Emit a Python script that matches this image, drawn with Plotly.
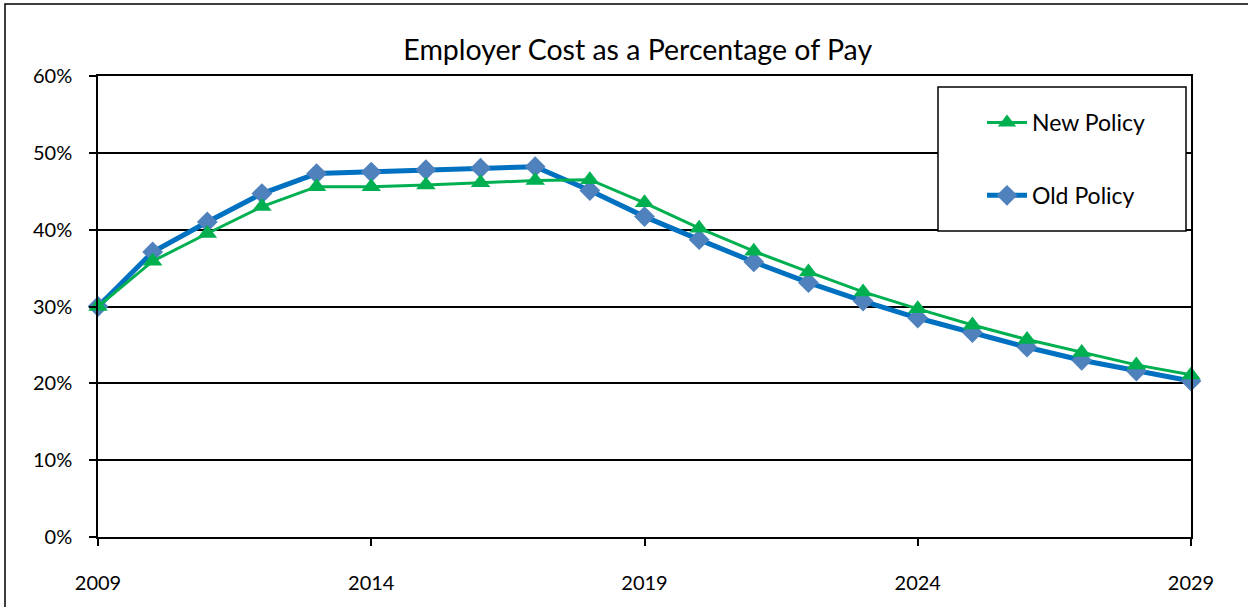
import plotly.graph_objects as go

years = list(range(2009, 2030))
new_policy = [30.0, 35.9, 39.5, 43.0, 45.6, 45.6, 45.8, 46.1, 46.4, 46.5, 43.5,
              40.2, 37.2, 34.5, 31.9, 29.7, 27.6, 25.7, 24.0, 22.4, 21.1]
old_policy = [30.0, 37.1, 41.0, 44.7, 47.3, 47.5, 47.8, 48.0, 48.2, 45.1, 41.7,
              38.7, 35.8, 33.1, 30.7, 28.5, 26.6, 24.7, 23.0, 21.6, 20.3]
y_ticks = [0, 10, 20, 30, 40, 50, 60]
y_tick_labels = ["0%", "10%", "20%", "30%", "40%", "50%", "60%"]
x_ticks = [2009, 2014, 2019, 2024, 2029]

FONT = "Lato"
W, H = 1248, 607
ML, MR, MT, MB = 98, 57, 76, 70
PW, PH = W - ML - MR, H - MT - MB

def px_x(x):
    return (x - ML) / PW

def px_y(y):
    return (H - MB - y) / PH

fig = go.Figure()
fig.add_trace(go.Scatter(
    x=years, y=old_policy, name="Old Policy", mode="lines+markers",
    line=dict(color="#0070C0", width=5),
    marker=dict(symbol="diamond", size=16, color="#4F81BD"),
    cliponaxis=False, legendgroup="b", legendrank=2,
))
fig.add_trace(go.Scatter(
    x=years, y=new_policy, name="New Policy", mode="lines+markers",
    line=dict(color="#00B050", width=3),
    marker=dict(symbol="triangle-up", size=17, color="#00B050"),
    cliponaxis=False, legendgroup="a", legendrank=1,
))

fig.update_layout(
    width=W, height=H,
    margin=dict(l=ML, r=MR, t=MT, b=MB),
    paper_bgcolor="white", plot_bgcolor="white",
    font=dict(family=FONT, size=20, color="black"),
    title=dict(text="Employer Cost as a Percentage of Pay", x=0.511, xanchor="center",
               y=1 - 50 / H, yanchor="middle", font=dict(family=FONT, size=28.5, color="black")),
    showlegend=True,
    legend=dict(x=px_x(982), y=px_y(101), xanchor="left", yanchor="top",
                bgcolor="rgba(0,0,0,0)", borderwidth=0, tracegroupgap=40,
                font=dict(family=FONT, size=23, color="black"),
                itemwidth=40),
    xaxis=dict(range=[2009, 2029], tickvals=x_ticks, ticktext=[str(v) for v in x_ticks],
               showgrid=False, showline=True, linecolor="black", linewidth=1.5, mirror=True,
               ticks="outside", ticklen=7, tickcolor="black", tickwidth=1.5,
               ticklabelstandoff=20, zeroline=False),
    yaxis=dict(range=[0, 60], tickvals=y_ticks, ticktext=y_tick_labels,
               showgrid=True, gridcolor="black", gridwidth=1.5,
               showline=True, linecolor="black", linewidth=1.5, mirror=True,
               ticks="outside", ticklen=7, tickcolor="black", tickwidth=1.5,
               ticklabelstandoff=13, zeroline=False),
    shapes=[
        dict(type="rect", xref="paper", yref="paper",
             x0=px_x(5), x1=px_x(1252), y0=px_y(615), y1=px_y(4),
             line=dict(color="black", width=1.5), fillcolor="rgba(0,0,0,0)", layer="below"),
        dict(type="rect", xref="paper", yref="paper",
             x0=px_x(938), x1=px_x(1186), y0=px_y(231), y1=px_y(87),
             line=dict(color="black", width=1.5), fillcolor="white", layer="above"),
    ],
)

fig.write_html("out.html")
